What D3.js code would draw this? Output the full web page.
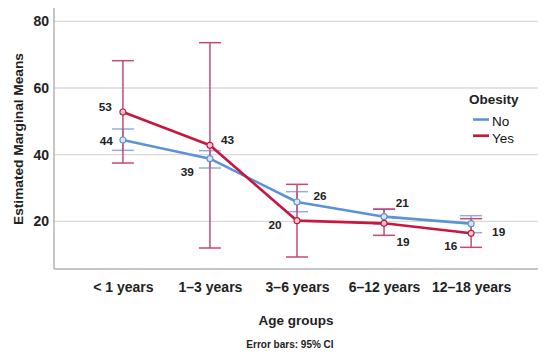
<!DOCTYPE html>
<html>
<head>
<meta charset="utf-8">
<script src="https://cdn.jsdelivr.net/npm/d3@7"></script>
<style>
  html, body { margin: 0; padding: 0; background: #fff; }
  svg { display: block; font-family: "Liberation Sans", Arial, sans-serif; }
</style>
</head>
<body>
<svg id="chart" width="550" height="354"></svg>
<script>
// ---- data ----
const categories = ["< 1 years", "1\u20133 years", "3\u20136 years", "6\u201312 years", "12\u201318 years"];
const yTicks = [20, 40, 60, 80];

const noMeans = [44.4, 38.8, 25.8, 21.4, 19.3];
const noLower = [41.3, 36.0, 22.9, 19.2, 16.6];
const noUpper = [47.7, 41.2, 28.9, 23.8, 21.7];

const yesMeans = [52.8, 42.8, 20.2, 19.4, 16.4];
const yesLower = [37.5, 12.0, 9.3, 15.8, 12.2];
const yesUpper = [68.2, 73.6, 31.1, 23.6, 20.8];

const seriesNames = ["No", "Yes"];

// label placement (pixel offsets from the point, anchor)
const noLabelLayout = [
  {dx: -10, dy: 0.5, anchor: "end"},
  {dx: -16, dy: 12.7, anchor: "end"},
  {dx: 16.5, dy: -6, anchor: "start"},
  {dx: 11.7, dy: -13.5, anchor: "start"},
  {dx: 21, dy: 8.3, anchor: "start"}
];
const yesLabelLayout = [
  {dx: -11, dy: -5.5, anchor: "end"},
  {dx: 11, dy: -5.7, anchor: "start"},
  {dx: -15.3, dy: 4, anchor: "end"},
  {dx: 12.4, dy: 18.4, anchor: "start"},
  {dx: -13.7, dy: 12.3, anchor: "end"}
];

// ---- layout ----
const svg = d3.select("#chart");
const plotL = 54, plotR = 538, plotT = 8, plotB = 269;

const x = d3.scalePoint().domain(categories).range([55, 539]).padding(0.78);
const y = d3.scaleLinear().domain([5.7, 84]).range([plotB, plotT]);

const colors = {
  No:  {line: "#5b93d6", bar: "#8eaee0", fill: "#dbe6f6"},
  Yes: {line: "#c8173f", bar: "#c34a72", fill: "#f3c9d4"}
};

// gridlines
svg.append("g").selectAll("line").data(yTicks).join("line")
  .attr("x1", plotL).attr("x2", plotR)
  .attr("y1", d => y(d)).attr("y2", d => y(d))
  .attr("stroke", "#d9d9d9").attr("stroke-width", 1.3);

// axes lines
svg.append("line").attr("x1", plotL).attr("x2", plotL).attr("y1", plotT).attr("y2", plotB)
  .attr("stroke", "#b3b3b3").attr("stroke-width", 1.5);
svg.append("line").attr("x1", plotL).attr("x2", plotR).attr("y1", plotB).attr("y2", plotB)
  .attr("stroke", "#b3b3b3").attr("stroke-width", 1.5);

// y tick labels via axis
const yAxis = svg.append("g").attr("transform", `translate(${plotL},0)`)
  .call(d3.axisLeft(y).tickValues(yTicks).tickSize(0).tickPadding(5));
yAxis.select(".domain").remove();
yAxis.selectAll("text").attr("font-size", 14).attr("font-weight", "bold")
  .attr("fill", "#222").attr("font-family", "Liberation Sans, Arial, sans-serif");

// x tick labels via axis
const xAxis = svg.append("g").attr("transform", `translate(0,${plotB})`)
  .call(d3.axisBottom(x).tickSize(0).tickPadding(13));
xAxis.select(".domain").remove();
xAxis.selectAll("text").attr("font-size", 14).attr("font-weight", "bold")
  .attr("fill", "#222").attr("font-family", "Liberation Sans, Arial, sans-serif");

// titles
svg.append("text").attr("transform", "translate(23,139) rotate(-90)")
  .attr("text-anchor", "middle").attr("font-size", 13.7).attr("font-weight", "bold")
  .attr("fill", "#222").text("Estimated Marginal Means");
svg.append("text").attr("x", 296).attr("y", 325).attr("text-anchor", "middle")
  .attr("font-size", 13.5).attr("font-weight", "bold").attr("fill", "#222").text("Age groups");
svg.append("text").attr("x", 290).attr("y", 347.5).attr("text-anchor", "middle")
  .attr("font-size", 10).attr("font-weight", "bold").attr("fill", "#222").text("Error bars: 95% CI");

// series
const series = [
  {name: "No", means: noMeans, lower: noLower, upper: noUpper, layout: noLabelLayout},
  {name: "Yes", means: yesMeans, lower: yesLower, upper: yesUpper, layout: yesLabelLayout}
];

const capW = 11;
series.forEach(s => {
  const c = colors[s.name];
  const g = svg.append("g");
  const rows = categories.map((cat, i) => ({cat, m: s.means[i], lo: s.lower[i], hi: s.upper[i]}));
  g.selectAll("line.v").data(rows).join("line").attr("class", "v")
    .attr("x1", d => x(d.cat)).attr("x2", d => x(d.cat))
    .attr("y1", d => y(d.lo)).attr("y2", d => y(d.hi))
    .attr("stroke", c.bar).attr("stroke-width", 1.5);
  g.selectAll("line.cl").data(rows).join("line").attr("class", "cl")
    .attr("x1", d => x(d.cat) - capW).attr("x2", d => x(d.cat) + capW)
    .attr("y1", d => y(d.lo)).attr("y2", d => y(d.lo))
    .attr("stroke", c.bar).attr("stroke-width", 1.5);
  g.selectAll("line.ch").data(rows).join("line").attr("class", "ch")
    .attr("x1", d => x(d.cat) - capW).attr("x2", d => x(d.cat) + capW)
    .attr("y1", d => y(d.hi)).attr("y2", d => y(d.hi))
    .attr("stroke", c.bar).attr("stroke-width", 1.5);
});

series.forEach(s => {
  const c = colors[s.name];
  const g = svg.append("g");
  const rows = categories.map((cat, i) => ({cat, m: s.means[i]}));
  g.append("path").datum(rows)
    .attr("d", d3.line().x(d => x(d.cat)).y(d => y(d.m)))
    .attr("fill", "none").attr("stroke", c.line).attr("stroke-width", 2.6)
    .attr("stroke-linejoin", "round");
  g.selectAll("circle").data(rows).join("circle")
    .attr("cx", d => x(d.cat)).attr("cy", d => y(d.m)).attr("r", 3)
    .attr("fill", c.fill).attr("stroke", c.line).attr("stroke-width", 1.1);
});

// value labels
series.forEach(s => {
  svg.append("g").selectAll("text").data(categories.map((cat, i) => ({cat, m: s.means[i], L: s.layout[i]})))
    .join("text")
    .attr("x", d => x(d.cat) + d.L.dx)
    .attr("y", d => y(d.m) + d.L.dy)
    .attr("dy", "0.36em")
    .attr("text-anchor", d => d.L.anchor)
    .attr("font-size", 11.8).attr("font-weight", "bold").attr("fill", "#222")
    .text(d => d3.format(".0f")(d.m));
});

// legend
const leg = svg.append("g");
leg.append("text").attr("x", 469).attr("y", 104).attr("font-size", 13.5)
  .attr("font-weight", "bold").attr("fill", "#222").text("Obesity");
const legY = [119.5, 135.7];
seriesNames.forEach((n, i) => {
  leg.append("line").attr("x1", 473).attr("x2", 489).attr("y1", legY[i]).attr("y2", legY[i])
    .attr("stroke", colors[n].line).attr("stroke-width", 2.6);
  leg.append("text").attr("x", 492).attr("y", legY[i] + 2).attr("dy", "0.36em")
    .attr("font-size", 13.5).attr("fill", "#111").text(n);
});
</script>
</body>
</html>
